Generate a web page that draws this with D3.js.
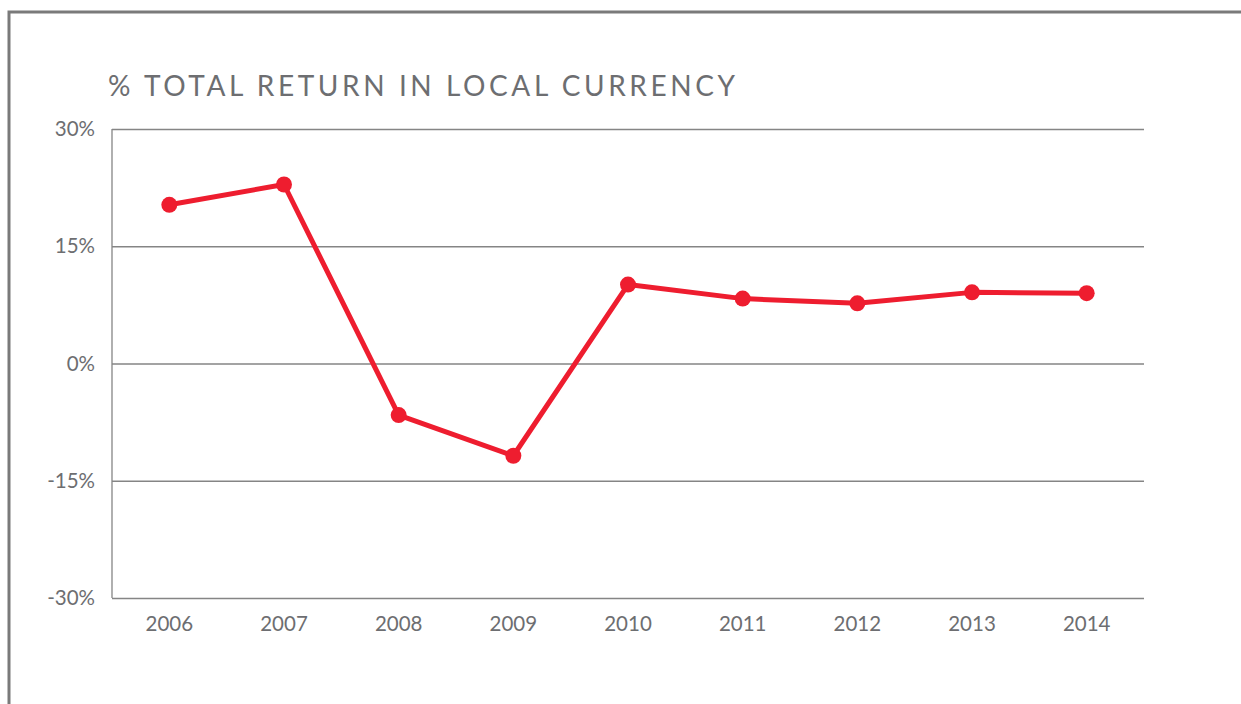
<!DOCTYPE html>
<html>
<head>
<meta charset="utf-8">
<script src="https://cdn.jsdelivr.net/npm/d3@7"></script>
<style>
  body { margin: 0; background: #fff; }
  svg { display: block; font-family: Lato, "Open Sans", sans-serif; }
</style>
</head>
<body>
<svg width="1241" height="704"></svg>
<script>
(function(){
    // Data
    const years = ["2006", "2007", "2008", "2009", "2010", "2011", "2012", "2013", "2014"];
    const returns = [20.3, 22.9, -6.6, -11.8, 10.1, 8.3, 7.7, 9.1, 9.0];
    const yTicks = [-30, -15, 0, 15, 30];

    const margin = { top: 129, right: 97, bottom: 106, left: 112 },
        width = 1241 - margin.left - margin.right,
        height = 704 - margin.top - margin.bottom;

    const grey = "#6d6e71";
    const red = "#ee1d2f";
    const font = "Lato, 'Open Sans', sans-serif";

    const root = d3.select("svg");

    // outer frame (top and left edges)
    root.append("path")
        .attr("d", "M9,704V12H1241")
        .attr("fill", "none")
        .attr("stroke", "#7a7a7a")
        .attr("stroke-width", 3);

    // title
    const title = root.append("text")
        .attr("x", 108)
        .attr("y", 96)
        .attr("fill", grey)
        .style("font-size", "28px")
        .text("% TOTAL RETURN IN LOCAL CURRENCY");
    const raw = title.node().getComputedTextLength();
    const n = title.text().length;
    title.style("letter-spacing", ((627 - raw) / (n - 1)) + "px");

    const svg = root.append("g")
        .attr("transform", `translate(${margin.left},${margin.top})`);

    const x = d3.scaleBand()
        .domain(years)
        .range([0, width])
        .padding(0);

    const y = d3.scaleLinear()
        .domain([-30, 30])
        .range([height, 0]);

    // horizontal gridlines + y labels
    const yAxis = svg.append("g")
        .call(d3.axisLeft(y).tickValues(yTicks).tickSize(-width).tickPadding(17).tickFormat(d => d + "%"))
        .attr("font-family", font)
        .attr("font-size", 20.5);
    yAxis.select(".domain").remove();
    yAxis.selectAll(".tick line")
        .attr("stroke", "#858585")
        .attr("stroke-width", 1.3);
    yAxis.selectAll(".tick text")
        .attr("fill", grey);

    // left axis line
    svg.append("line")
        .attr("x1", 0).attr("x2", 0)
        .attr("y1", y(30)).attr("y2", y(-30))
        .attr("stroke", "#858585")
        .attr("stroke-width", 1.3);

    // x labels
    const xAxis = svg.append("g")
        .attr("transform", `translate(0,${height})`)
        .call(d3.axisBottom(x).tickSize(0).tickPadding(18))
        .attr("font-family", font)
        .attr("font-size", 20.5);
    xAxis.select(".domain").remove();
    xAxis.selectAll(".tick text")
        .attr("fill", grey);

    const pts = years.map((d, i) => ({ year: d, value: returns[i] }));

    const line = d3.line()
        .x(d => x(d.year) + x.bandwidth() / 2)
        .y(d => y(d.value));

    svg.append("path")
        .datum(pts)
        .attr("d", line)
        .attr("fill", "none")
        .attr("stroke", red)
        .attr("stroke-width", 5)
        .attr("stroke-linejoin", "round");

    svg.selectAll(".dot")
        .data(pts)
        .enter().append("circle")
        .attr("class", "dot")
        .attr("cx", d => x(d.year) + x.bandwidth() / 2)
        .attr("cy", d => y(d.value))
        .attr("r", 8)
        .attr("fill", red);
})();
</script>
</body>
</html>
